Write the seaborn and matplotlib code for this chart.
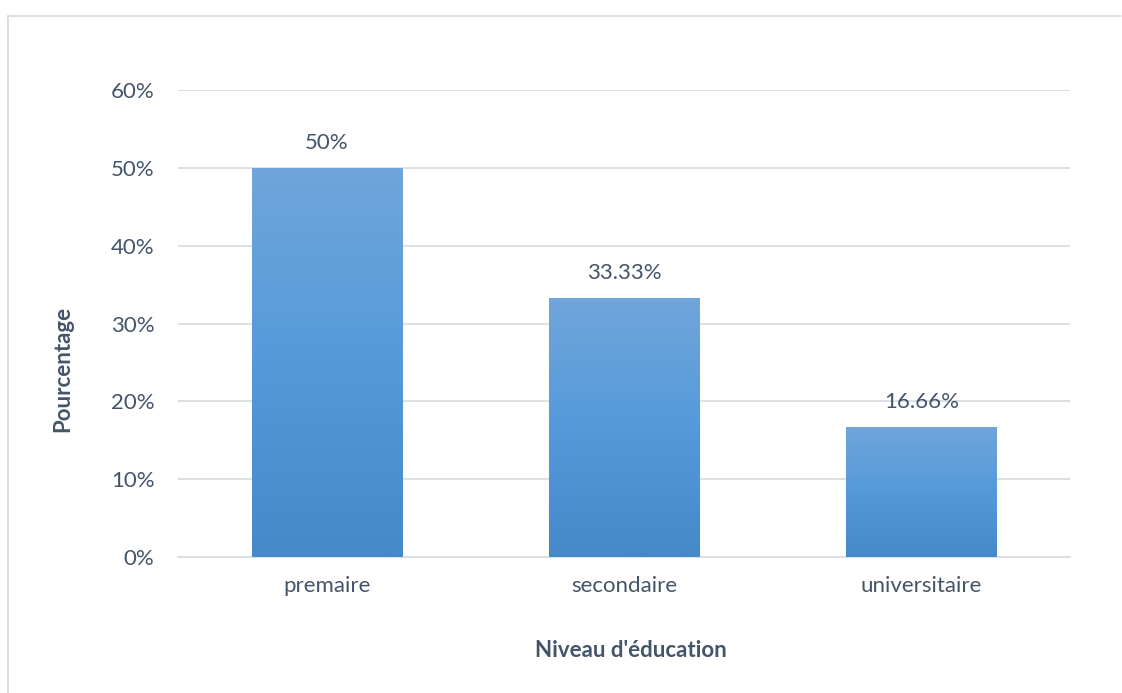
import matplotlib
matplotlib.use("Agg")
import matplotlib.pyplot as plt
import seaborn as sns
import numpy as np
import pandas as pd
from matplotlib.colors import LinearSegmentedColormap
from matplotlib.lines import Line2D

categories = ["premaire", "secondaire", "universitaire"]
values = [50.0, 33.33, 16.66]
labels = ["50%", "33.33%", "16.66%"]
yticks = [0, 10, 20, 30, 40, 50, 60]
ytick_labels = ["0%", "10%", "20%", "30%", "40%", "50%", "60%"]

sns.set_theme(style="white")
plt.rcParams["font.family"] = ["Lato", "DejaVu Sans"]

text_color = "#44546A"
grid_color = "#D9DDE3"
fs = 16

df = pd.DataFrame({"cat": categories, "val": values})

fig = plt.figure(figsize=(11.22, 6.93), dpi=100)
ax = fig.add_axes([178 / 1122, 1 - 557 / 693, 892 / 1122, 467 / 693])

sns.barplot(data=df, x="cat", y="val", ax=ax, width=0.505, color="#549ADB",
            saturation=1, zorder=3)

ax.set_ylim(0, 60)
ax.set_xlim(-0.5, 2.5)
ax.set_yticks(yticks)
ax.set_yticklabels(ytick_labels)
ax.yaxis.grid(True, color=grid_color, linewidth=1.3, zorder=0)
ax.set_axisbelow(True)
for s in ["top", "right", "left"]:
    ax.spines[s].set_visible(False)
ax.spines["bottom"].set_color(grid_color)
ax.spines["bottom"].set_linewidth(1.3)
ax.tick_params(axis="both", length=0, labelsize=fs, colors=text_color)
ax.tick_params(axis="y", pad=17)
ax.tick_params(axis="x", pad=14)

cmap = LinearSegmentedColormap.from_list("g", ["#4489C8", "#549ADB", "#71A5DA"])
grad = np.linspace(0, 1, 256).reshape(-1, 1)
for p, lab in zip(ax.patches, labels):
    x0, y0 = p.get_x(), p.get_y()
    w, h = p.get_width(), p.get_height()
    im = ax.imshow(grad, extent=[x0, x0 + w, y0, y0 + h], origin="lower",
                   cmap=cmap, aspect="auto", zorder=4)
    im.set_clip_path(p)
    ax.annotate(lab, (x0 + w / 2, y0 + h), xytext=(0, 25),
                textcoords="offset pixels", ha="center", va="center",
                fontsize=fs, color=text_color)
ax.set_xlim(-0.5, 2.5)
ax.set_ylim(0, 60)

ax.set_xlabel("Niveau d'éducation", fontsize=fs, fontweight="bold",
              color=text_color, labelpad=0)
ax.xaxis.set_label_coords((631 - 178) / 892, -(640 - 557) / 467)
ax.set_ylabel("Pourcentage", fontsize=fs, fontweight="bold",
              color=text_color)
ax.yaxis.set_label_coords(-(178 - 73) / 892, (557 - 369) / 467)

# outer frame (top and left edges visible)
fig.add_artist(Line2D([7.5 / 1122, 1121 / 1122], [1 - 15.5 / 693, 1 - 15.5 / 693],
                      color="#D9D9D9", linewidth=1.2, transform=fig.transFigure))
fig.add_artist(Line2D([7.5 / 1122, 7.5 / 1122], [0, 1 - 15.5 / 693],
                      color="#D9D9D9", linewidth=1.2, transform=fig.transFigure))

fig.savefig("out.png", dpi=100, facecolor="white")
